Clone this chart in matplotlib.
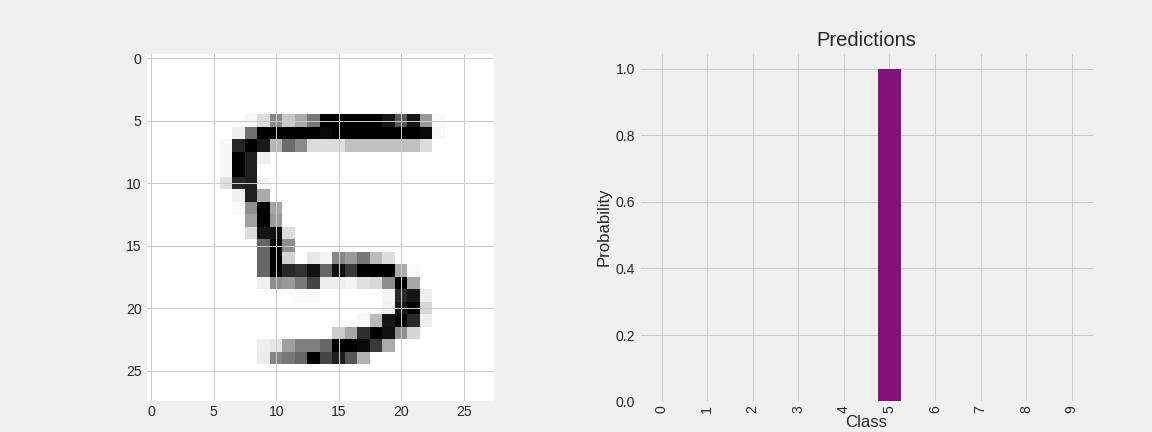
import numpy as np
import matplotlib
matplotlib.use("Agg")
import matplotlib.pyplot as plt

# 28x28 digit image (0 = white, 255 = black)
digit = [
    [0] * 28,
    [0] * 28,
    [0] * 28,
    [0] * 28,
    [0] * 28,
    [0, 0, 0, 0, 0, 0, 0, 0, 7, 35, 119, 55, 85, 136, 255, 255, 255, 255, 255, 234, 165, 234, 102, 5, 0, 0, 0, 0],
    [0, 0, 0, 0, 0, 0, 0, 17, 145, 255, 255, 255, 255, 255, 247, 255, 255, 255, 255, 255, 255, 255, 245, 7, 0, 0, 0, 0],
    [0, 0, 0, 0, 0, 0, 7, 217, 255, 229, 72, 147, 116, 35, 34, 34, 63, 63, 63, 63, 63, 63, 34, 0, 0, 0, 0, 0],
    [0, 0, 0, 0, 0, 0, 7, 255, 225, 15, 0, 0, 0, 0, 0, 0, 0, 0, 0, 0, 0, 0, 0, 0, 0, 0, 0, 0],
    [0, 0, 0, 0, 0, 0, 7, 255, 225, 0, 0, 0, 0, 0, 0, 0, 0, 0, 0, 0, 0, 0, 0, 0, 0, 0, 0, 0],
    [0, 0, 0, 0, 0, 0, 31, 217, 225, 7, 0, 0, 0, 0, 0, 0, 0, 0, 0, 0, 0, 0, 0, 0, 0, 0, 0, 0],
    [0, 0, 0, 0, 0, 0, 0, 15, 225, 85, 0, 0, 0, 0, 0, 0, 0, 0, 0, 0, 0, 0, 0, 0, 0, 0, 0, 0],
    [0, 0, 0, 0, 0, 0, 0, 5, 113, 255, 90, 0, 0, 0, 0, 0, 0, 0, 0, 0, 0, 0, 0, 0, 0, 0, 0, 0],
    [0, 0, 0, 0, 0, 0, 0, 0, 95, 255, 101, 0, 0, 0, 0, 0, 0, 0, 0, 0, 0, 0, 0, 0, 0, 0, 0, 0],
    [0, 0, 0, 0, 0, 0, 0, 0, 34, 234, 239, 34, 0, 0, 0, 0, 0, 0, 0, 0, 0, 0, 0, 0, 0, 0, 0, 0],
    [0, 0, 0, 0, 0, 0, 0, 0, 0, 153, 255, 113, 0, 0, 0, 0, 0, 0, 0, 0, 0, 0, 0, 0, 0, 0, 0, 0],
    [0, 0, 0, 0, 0, 0, 0, 0, 0, 153, 255, 43, 0, 25, 11, 119, 101, 136, 68, 34, 0, 0, 0, 0, 0, 0, 0, 0],
    [0, 0, 0, 0, 0, 0, 0, 0, 0, 153, 255, 217, 204, 238, 153, 238, 197, 255, 255, 255, 85, 5, 0, 0, 0, 0, 0, 0],
    [0, 0, 0, 0, 0, 0, 0, 0, 0, 15, 113, 101, 133, 187, 17, 17, 11, 31, 39, 113, 255, 89, 0, 0, 0, 0, 0, 0],
    [0, 0, 0, 0, 0, 0, 0, 0, 0, 0, 0, 0, 5, 5, 0, 0, 0, 0, 0, 10, 213, 234, 17, 0, 0, 0, 0, 0],
    [0, 0, 0, 0, 0, 0, 0, 0, 0, 0, 0, 0, 0, 0, 0, 0, 0, 0, 0, 13, 230, 255, 41, 0, 0, 0, 0, 0],
    [0, 0, 0, 0, 0, 0, 0, 0, 0, 0, 0, 0, 0, 0, 0, 0, 0, 7, 68, 234, 255, 213, 17, 0, 0, 0, 0, 0],
    [0, 0, 0, 0, 0, 0, 0, 0, 0, 0, 0, 0, 0, 0, 0, 51, 89, 209, 255, 238, 113, 41, 0, 0, 0, 0, 0, 0],
    [0, 0, 0, 0, 0, 0, 0, 0, 0, 17, 25, 95, 127, 127, 153, 255, 255, 245, 197, 85, 0, 0, 0, 0, 0, 0, 0, 0],
    [0, 0, 0, 0, 0, 0, 0, 0, 0, 20, 122, 136, 153, 255, 187, 225, 170, 75, 0, 0, 0, 0, 0, 0, 0, 0, 0, 0],
    [0] * 28,
    [0] * 28,
    [0] * 28,
]

classes = [str(i) for i in range(10)]
probabilities = [0.0, 0.0, 0.0, 0.0, 0.0, 1.0, 0.0, 0.0, 0.0, 0.0]

plt.style.use("fivethirtyeight")
plt.rcParams["font.family"] = ["Liberation Sans", "DejaVu Sans"]
plt.rcParams["text.color"] = "#262626"
plt.rcParams["xtick.color"] = "#262626"
plt.rcParams["ytick.color"] = "#262626"
plt.rcParams["axes.labelcolor"] = "#262626"

fig, (ax1, ax2) = plt.subplots(1, 2, figsize=(16, 6), dpi=72)

ax1.imshow(np.array(digit), cmap="gray_r")

ax2.bar(range(len(classes)), probabilities, color="#810f7c", width=0.5)
ax2.set_xticks(range(len(classes)))
ax2.set_xticklabels(classes, rotation=90)
ax2.set_xlim(-0.5, 9.5)
ax2.set_title("Predictions")
ax2.set_xlabel("Class", labelpad=2)
ax2.set_ylabel("Probability")

fig.savefig("out.png", dpi=72)
